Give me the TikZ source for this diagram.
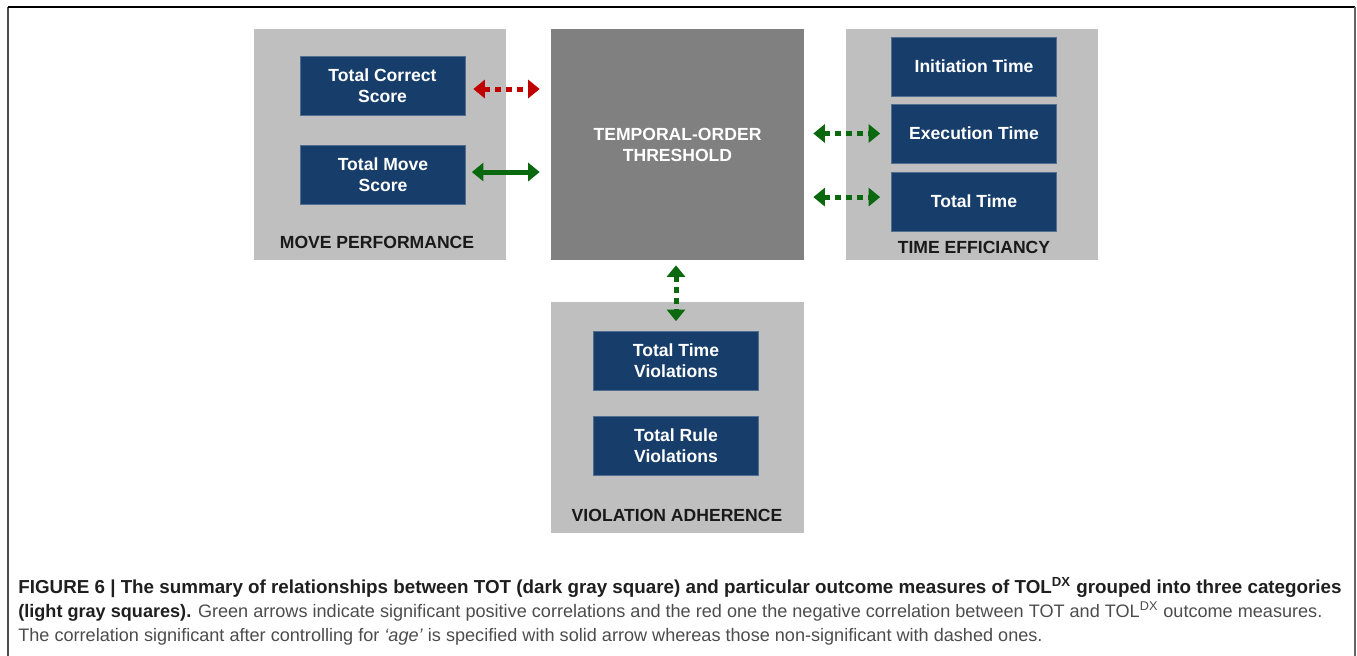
\documentclass[tikz,border=0pt]{standalone}
\usepackage{fontspec}
\setmainfont{Liberation Sans}
\usepackage{xcolor}
\usetikzlibrary{arrows.meta,positioning,calc}
\definecolor{lightgrp}{RGB}{191,191,191}
\definecolor{darkgrp}{RGB}{128,128,128}
\definecolor{navybox}{RGB}{23,61,106}
\definecolor{poscorr}{RGB}{10,105,15}
\definecolor{negcorr}{RGB}{192,0,0}

\begin{document}
\begin{tikzpicture}[x=0.02cm, y=-0.02cm,
  group/.style={rectangle, fill=lightgrp, minimum width=5.06cm, minimum height=4.62cm, inner sep=0pt},
  measure/.style={rectangle, fill=navybox, draw=navybox!75!white, line width=0.4pt, text=white,
    font=\fontsize{10}{12}\selectfont\bfseries, align=center, minimum width=3.3cm, minimum height=1.18cm},
  glabel/.style={font=\fontsize{10}{12}\selectfont\bfseries, text=black!90},
  corr/.style={{Triangle[width=0.36cm,length=0.23cm]}-{Triangle[width=0.36cm,length=0.23cm]}, line width=0.1cm},
  nonsig/.style={dash pattern=on 0.12cm off 0.1cm},
  caption/.style={anchor=base west, inner sep=0pt, font=\fontsize{10.3}{12}\selectfont}
]
\useasboundingbox (0,0) rectangle (1357,656);

% Outer frame
\draw[black!70, line width=0.8pt] (8,656) -- (8,7);
\draw[black, line width=0.8pt] (8,7) -- (1355,7);
\draw[black!60, line width=0.8pt] (1355,7) -- (1355,656);

% Category squares
\node[group] (mp) at (380,144.5) {};
\node[group, fill=darkgrp, text=white, font=\fontsize{10}{12}\selectfont\bfseries, align=center] (tot) at (677.5,144.5) {TEMPORAL-ORDER\\THRESHOLD};
\node[group] (te) at (972,144.5) {};
\node[group] (va) at (677.5,417.5) {};

% Outcome measures
\node[measure] (tcs) at (382.5,85.5) {Total Correct\\Score};
\node[measure] (tms) at (383,174.5) {Total Move\\Score};
\node[measure] (it) at (974,66.5) {Initiation Time};
\node[measure] (et) at (974,133.5) {Execution Time};
\node[measure] (tt) at (974,201.5) {Total Time};
\node[measure] (ttv) at (676,361) {Total Time\\Violations};
\node[measure] (trv) at (676,445.5) {Total Rule\\Violations};

% Category labels
\node[glabel] (mplab) at (377,242) {MOVE PERFORMANCE};
\node[glabel] (telab) at (974,247) {TIME EFFICIANCY};
\node[glabel] (valab) at (677,515) {VIOLATION ADHERENCE};

% Correlations
\draw[corr, nonsig, negcorr, shorten <=0.16cm, shorten >=0.22cm] ([yshift=-2pt]tcs.east) -- ([yshift=-2pt]tcs.east -| tot.west);
\draw[corr, poscorr, shorten <=0.12cm, shorten >=0.22cm] ([yshift=1.4pt]tms.east) -- ([yshift=1.4pt]tms.east -| tot.west);
\draw[corr, nonsig, poscorr, shorten <=0.18cm, shorten >=0.22cm] (et.west -| tot.east) -- (et.west);
\draw[corr, nonsig, poscorr, shorten <=0.18cm, shorten >=0.22cm] ([yshift=2.5pt]tt.west -| tot.east) -- ([yshift=2.5pt]tt.west);
\draw[corr, nonsig, poscorr, shorten <=0.1cm, shorten >=0.2cm] (tot.south -| ttv.north) -- (ttv.north);

% Caption
\node[caption, text=black!88, font=\fontsize{10.7}{12}\selectfont] (cap1) at (18,593) {\bfseries FIGURE 6 | The summary of relationships between TOT (dark gray square) and particular outcome measures of TOL\textsuperscript{DX} grouped into three categories};
\node[caption, text=black!70] (cap2) at (18,617) {\textbf{\color{black!88}(light gray squares).} Green arrows indicate significant positive correlations and the red one the negative correlation between TOT and TOL\textsuperscript{DX} outcome measures.};
\node[caption, text=black!70] (cap3) at (18,641) {The correlation significant after controlling for \textit{‘age’} is specified with solid arrow whereas those non-significant with dashed ones.};

\end{tikzpicture}
\end{document}
